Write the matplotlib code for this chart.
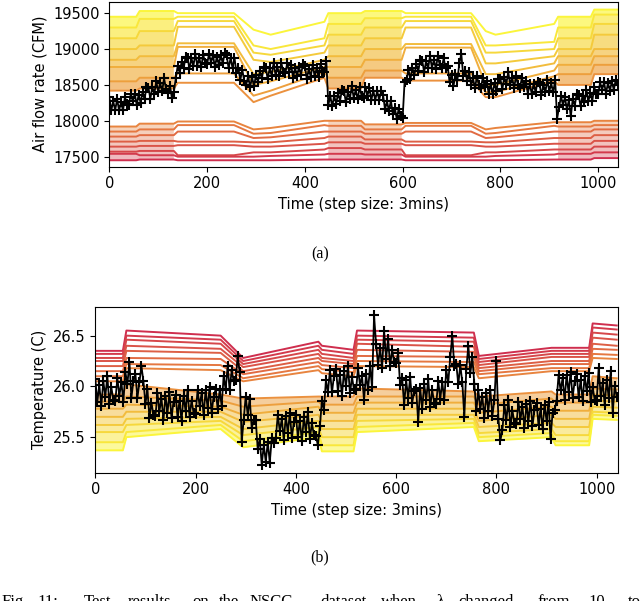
import numpy as np
import matplotlib
matplotlib.use("Agg")
import matplotlib.pyplot as plt
from matplotlib.colors import LinearSegmentedColormap

# ------------------------------------------------------------------ data
STEP = 4  # sampling step (time steps) of the measured series below

airflow_measured = [
    18330, 18145, 18270, 18150, 18300, 18145, 18260, 18145, 18330, 18230,
    18220, 18380, 18270, 18380, 18220, 18365, 18250, 18400, 18300, 18465,
    18460, 18310, 18470, 18375, 18550, 18405, 18530, 18410, 18590, 18445,
    18390, 18490, 18320, 18400, 18600, 18765, 18670, 18825, 18730, 18890,
    18880, 18720, 18870, 18765, 18930, 18770, 18880, 18750, 18920, 18810,
    18790, 18935, 18810, 18915, 18750, 18895, 18780, 18915, 18800, 18940,
    18910, 18735, 18870, 18740, 18880, 18670, 18730, 18570, 18710, 18560,
    18500, 18620, 18470, 18610, 18480, 18640, 18540, 18690, 18590, 18750,
    18740, 18580, 18730, 18630, 18800, 18640, 18750, 18625, 18800, 18685,
    18660, 18805, 18680, 18775, 18600, 18740, 18620, 18755, 18640, 18785,
    18760, 18585, 18720, 18615, 18780, 18620, 18730, 18610, 18790, 18690,
    18680, 18830, 18220, 18345, 18200, 18350, 18240, 18385, 18280, 18435,
    18420, 18255, 18400, 18305, 18480, 18320, 18430, 18300, 18470, 18350,
    18320, 18470, 18350, 18455, 18290, 18420, 18290, 18415, 18290, 18410,
    18360, 18160, 18270, 18140, 18280, 18095, 18180, 18025, 18170, 18060,
    18040, 18540, 18570, 18710, 18580, 18740, 18640, 18790, 18690, 18850,
    18840, 18680, 18830, 18730, 18900, 18740, 18850, 18725, 18900, 18775,
    18740, 18870, 18730, 18770, 18540, 18640, 18480, 18650, 18570, 18800,
    18930, 18625, 18700, 18555, 18680, 18500, 18590, 18455, 18620, 18495,
    18460, 18600, 18470, 18560, 18380, 18510, 18380, 18525, 18420, 18585,
    18580, 18440, 18610, 18510, 18680, 18505, 18600, 18460, 18620, 18495,
    18460, 18600, 18470, 18560, 18380, 18510, 18380, 18515, 18400, 18545,
    18520, 18355, 18500, 18400, 18570, 18410, 18520, 18395, 18570, 18030,
    18190, 18340, 18220, 18325, 18160, 18285, 18060, 18305, 18210, 18370,
    18360, 18200, 18350, 18255, 18430, 18275, 18390, 18280, 18470, 18375,
    18370, 18535, 18430, 18540, 18380, 18530, 18420, 18550, 18430, 18575,
    18500]

temperature_measured = [
    26.07, 25.85, 26.01, 25.81, 26.05, 25.90, 26.10, 25.83, 25.99, 25.87,
    25.86, 26.08, 25.91, 26.04, 25.85, 26.14, 26.02, 26.24, 25.89, 26.05,
    26.12, 25.89, 26.04, 26.20, 26.05, 25.83, 25.97, 25.69, 25.84, 25.72,
    25.71, 25.93, 25.76, 25.88, 25.67, 25.91, 25.74, 25.94, 25.69, 25.85,
    25.92, 25.70, 25.86, 25.66, 25.91, 25.76, 25.96, 25.70, 25.86, 25.74,
    25.73, 25.96, 25.81, 25.93, 25.72, 25.96, 25.79, 25.99, 25.74, 25.90,
    25.97, 25.78, 25.96, 25.81, 26.10, 25.97, 26.20, 25.96, 26.16, 26.05,
    26.06, 26.30, 26.14, 25.45, 25.67, 25.90, 25.72, 25.88, 25.59, 25.67,
    25.67, 25.38, 25.48, 25.23, 25.42, 25.26, 25.45, 25.25, 25.49, 25.44,
    25.49, 25.72, 25.56, 25.68, 25.47, 25.71, 25.54, 25.74, 25.49, 25.65,
    25.72, 25.50, 25.66, 25.46, 25.70, 25.55, 25.75, 25.48, 25.64, 25.52,
    25.51, 25.42, 25.61, 25.86, 25.77, 26.06, 25.94, 26.16, 25.94, 26.10,
    26.17, 25.95, 26.11, 25.91, 26.15, 26.00, 26.20, 25.93, 26.09, 25.97,
    25.96, 26.18, 26.01, 26.10, 25.87, 26.12, 25.96, 26.20, 25.99, 26.70,
    26.42, 26.21, 26.38, 26.18, 26.55, 26.27, 26.47, 26.20, 26.36, 26.24,
    26.23, 26.33, 26.01, 26.08, 25.82, 26.06, 25.89, 26.09, 25.84, 25.95,
    25.97, 25.65, 25.98, 25.78, 26.02, 25.87, 26.07, 25.80, 25.96, 25.84,
    25.83, 26.05, 25.88, 26.04, 25.87, 26.16, 26.04, 26.29, 26.50, 26.20,
    26.22, 26.02, 26.21, 26.04, 25.70, 26.17, 26.40, 26.13, 26.29, 26.02,
    25.76, 25.96, 25.78, 25.90, 25.69, 25.93, 25.76, 25.96, 25.71, 25.87,
    26.25, 25.68, 25.47, 25.57, 25.82, 25.67, 25.87, 25.60, 25.76, 25.64,
    25.63, 25.85, 25.68, 25.80, 25.59, 25.83, 25.66, 25.86, 25.61, 25.77,
    25.84, 25.62, 25.78, 25.58, 25.82, 25.66, 25.85, 25.48, 25.74, 25.77,
    25.86, 26.11, 25.96, 26.08, 25.87, 26.11, 25.94, 26.14, 25.89, 26.05,
    26.12, 25.90, 26.06, 25.86, 26.10, 25.95, 26.13, 25.85, 25.99, 25.87,
    25.86, 26.18, 25.91, 26.03, 25.82, 26.06, 25.89, 26.15, 25.74, 26.00,
    25.90]

# air-flow curves for the different lambda values (index 0 = red, bottom)
T_AIR = [0, 55, 62, 132, 140, 255, 295, 330, 440, 448, 515,
         523, 598, 606, 740, 770, 790, 910, 918, 985, 992, 1040]
air_dense = [1, 1, 1, 1, 0, 0, 0, 0, 0, 1, 1,
             1, 1, 0, 0, 0, 0, 0, 1, 1, 1, 1]
air_l00 = [17450, 17450, 17460, 17460, 17450, 17450, 17450, 17450, 17460, 17460, 17460, 17460, 17460, 17450, 17450, 17450, 17450, 17460, 17460, 17460, 17480, 17480]
air_l01 = [17540, 17540, 17520, 17520, 17500, 17500, 17500, 17510, 17530, 17540, 17540, 17530, 17530, 17500, 17500, 17500, 17510, 17530, 17540, 17540, 17560, 17560]
air_l02 = [17570, 17570, 17580, 17580, 17520, 17520, 17560, 17560, 17600, 17620, 17620, 17600, 17600, 17520, 17520, 17560, 17560, 17600, 17600, 17600, 17640, 17640]
air_l03 = [17640, 17640, 17650, 17650, 17660, 17660, 17640, 17640, 17680, 17700, 17700, 17680, 17680, 17660, 17660, 17640, 17640, 17680, 17680, 17680, 17720, 17720]
air_l04 = [17710, 17710, 17720, 17720, 17710, 17710, 17700, 17700, 17760, 17780, 17780, 17740, 17740, 17710, 17710, 17700, 17700, 17760, 17760, 17760, 17800, 17800]
air_l05 = [17780, 17780, 17800, 17800, 17850, 17850, 17760, 17770, 17850, 17850, 17850, 17820, 17820, 17850, 17850, 17760, 17770, 17850, 17850, 17850, 17880, 17880]
air_l06 = [17850, 17850, 17880, 17880, 17940, 17940, 17820, 17830, 17940, 17930, 17930, 17880, 17880, 17930, 17930, 17820, 17830, 17930, 17920, 17920, 17940, 17940]
air_l07 = [17920, 17920, 17960, 17960, 17990, 17990, 17880, 17900, 18000, 18000, 18000, 17950, 17950, 17970, 17970, 17880, 17900, 17980, 17980, 17980, 18000, 18000]
air_l08 = [18420, 18420, 18450, 18450, 18530, 18530, 18260, 18350, 18600, 18450, 18450, 18600, 18600, 18560, 18560, 18330, 18330, 18560, 18500, 18500, 18650, 18650]
air_l09 = [18550, 18550, 18600, 18600, 18660, 18660, 18350, 18420, 18680, 18600, 18600, 18700, 18700, 18660, 18660, 18400, 18400, 18620, 18650, 18650, 18780, 18780]
air_l10 = [18750, 18750, 18750, 18750, 19030, 19030, 18500, 18550, 18750, 18750, 18750, 18850, 18850, 19020, 19020, 18500, 18500, 18700, 18780, 18780, 18900, 18900]
air_l11 = [18850, 18850, 18900, 18900, 19080, 19080, 18650, 18680, 18850, 18900, 18900, 19000, 19000, 19070, 19070, 18650, 18650, 18800, 18900, 18900, 19000, 19000]
air_l12 = [19000, 19000, 19050, 19050, 19310, 19310, 18850, 18820, 18950, 19050, 19050, 19150, 19150, 19300, 19300, 18800, 18800, 18900, 19000, 19000, 19200, 19200]
air_l13 = [19150, 19150, 19250, 19250, 19390, 19390, 18950, 18920, 19050, 19200, 19200, 19300, 19300, 19390, 19390, 18950, 18950, 19000, 19150, 19150, 19350, 19350]
air_l14 = [19300, 19300, 19420, 19420, 19450, 19450, 19050, 19000, 19150, 19350, 19350, 19430, 19430, 19450, 19450, 19050, 19050, 19100, 19300, 19300, 19480, 19480]
air_l15 = [19450, 19450, 19530, 19530, 19500, 19500, 19270, 19200, 19380, 19500, 19500, 19530, 19530, 19500, 19500, 19250, 19200, 19350, 19450, 19450, 19550, 19550]
air_lines = [air_l00, air_l01, air_l02, air_l03, air_l04, air_l05, air_l06, air_l07,
             air_l08, air_l09, air_l10, air_l11, air_l12, air_l13, air_l14, air_l15]

# temperature curves (index 0 = red, top)
T_TMP = [0, 55, 62, 250, 295, 445, 452, 515, 522, 755, 765, 910, 918, 985, 992, 1040]
tmp_l00 = [26.35, 26.35, 26.55, 26.50, 26.28, 26.44, 26.40, 26.36, 26.55, 26.53, 26.30, 26.38, 26.38, 26.38, 26.62, 26.60]
tmp_l01 = [26.32, 26.32, 26.50, 26.46, 26.25, 26.40, 26.36, 26.32, 26.50, 26.48, 26.27, 26.35, 26.35, 26.35, 26.58, 26.56]
tmp_l02 = [26.28, 26.28, 26.46, 26.42, 26.22, 26.36, 26.32, 26.28, 26.46, 26.44, 26.24, 26.32, 26.32, 26.32, 26.53, 26.51]
tmp_l03 = [26.25, 26.25, 26.40, 26.37, 26.19, 26.32, 26.28, 26.25, 26.42, 26.39, 26.21, 26.29, 26.29, 26.29, 26.48, 26.46]
tmp_l04 = [26.20, 26.20, 26.35, 26.33, 26.15, 26.28, 26.25, 26.22, 26.36, 26.34, 26.18, 26.25, 26.25, 26.25, 26.42, 26.40]
tmp_l05 = [26.15, 26.15, 26.28, 26.27, 26.12, 26.24, 26.21, 26.18, 26.30, 26.29, 26.15, 26.22, 26.22, 26.22, 26.37, 26.36]
tmp_l06 = [26.10, 26.10, 26.22, 26.21, 26.08, 26.20, 26.17, 26.14, 26.25, 26.24, 26.12, 26.18, 26.18, 26.18, 26.32, 26.31]
tmp_l07 = [26.05, 26.05, 26.18, 26.16, 26.05, 26.16, 26.13, 26.10, 26.20, 26.19, 26.08, 26.15, 26.15, 26.15, 26.28, 26.27]
tmp_l08 = [25.92, 25.92, 26.02, 25.92, 25.88, 25.90, 25.90, 25.90, 25.98, 25.95, 25.90, 25.95, 25.92, 25.92, 26.10, 26.08]
tmp_l09 = [25.85, 25.85, 25.90, 25.86, 25.80, 25.85, 25.82, 25.82, 25.90, 25.90, 25.82, 25.88, 25.84, 25.84, 25.98, 25.97]
tmp_l10 = [25.78, 25.78, 25.82, 25.80, 25.72, 25.80, 25.74, 25.74, 25.84, 25.84, 25.74, 25.80, 25.76, 25.76, 25.92, 25.91]
tmp_l11 = [25.70, 25.70, 25.75, 25.75, 25.65, 25.72, 25.66, 25.66, 25.78, 25.78, 25.66, 25.72, 25.68, 25.68, 25.86, 25.85]
tmp_l12 = [25.62, 25.62, 25.68, 25.70, 25.58, 25.66, 25.58, 25.58, 25.72, 25.72, 25.60, 25.64, 25.60, 25.60, 25.80, 25.79]
tmp_l13 = [25.55, 25.55, 25.62, 25.66, 25.52, 25.60, 25.50, 25.50, 25.66, 25.68, 25.54, 25.58, 25.52, 25.52, 25.75, 25.74]
tmp_l14 = [25.45, 25.45, 25.55, 25.62, 25.46, 25.55, 25.42, 25.42, 25.60, 25.64, 25.50, 25.54, 25.46, 25.46, 25.72, 25.71]
tmp_l15 = [25.37, 25.37, 25.50, 25.58, 25.40, 25.50, 25.36, 25.36, 25.55, 25.60, 25.46, 25.50, 25.42, 25.42, 25.68, 25.67]
tmp_lines = [tmp_l00, tmp_l01, tmp_l02, tmp_l03, tmp_l04, tmp_l05, tmp_l06, tmp_l07,
             tmp_l08, tmp_l09, tmp_l10, tmp_l11, tmp_l12, tmp_l13, tmp_l14, tmp_l15]

x_ticks = [0, 200, 400, 600, 800, 1000]
air_yticks = [17500, 18000, 18500, 19000, 19500]
tmp_yticks = [25.5, 26.0, 26.5]

x_label = "Time (step size: 3mins)"
air_ylabel = "Air flow rate (CFM)"
tmp_ylabel = "Temperature (C)"
caption_words = ["Fig.", "11:", "Test", "results", "on", "the", "NSCC",
                 "dataset", "when", "\u03bb", "changed", "from", "10", "to"]
caption_x_px = [2, 37, 84, 128, 192, 219, 250, 320, 381, 437, 458, 537, 588, 628]

# ------------------------------------------------------------------ plot
FS = 10.5
cmap = LinearSegmentedColormap.from_list("ry", ["#cf2e4e", "#ea8a3e", "#fbf53b"])

fig = plt.figure(figsize=(6.4, 6.01), dpi=100)
ax1 = fig.add_axes([0.1708, 0.7226, 0.7944, 0.2746])
ax2 = fig.add_axes([0.1489, 0.2135, 0.8163, 0.2762])

n = len(air_lines)
mask = np.array(air_dense, dtype=bool)
for i, vals in enumerate(air_lines):
    ax1.plot(T_AIR, vals, color=cmap(i / (n - 1)), lw=1.4, zorder=2)
for i in range(n - 1):
    if i == 7:
        continue
    a = 0.65 if i >= 8 else 0.35
    ax1.fill_between(T_AIR, air_lines[i], air_lines[i + 1], where=mask,
                     color=cmap((i + 1) / (n - 1)), alpha=a, lw=0, zorder=1)
t_air = np.arange(len(airflow_measured)) * STEP
ax1.plot(t_air, airflow_measured, color="black", lw=1.3, marker="+",
         ms=7, mew=1.5, zorder=3)

m = len(tmp_lines)
for i, vals in enumerate(tmp_lines):
    ax2.plot(T_TMP, vals, color=cmap(i / (m - 1)), lw=1.4, zorder=2)
for i in range(8, m - 1):
    ax2.fill_between(T_TMP, tmp_lines[i], tmp_lines[i + 1],
                     color=cmap((i + 1) / (m - 1)), alpha=0.5, lw=0, zorder=1)
t_tmp = np.arange(len(temperature_measured)) * STEP
ax2.plot(t_tmp, temperature_measured, color="black", lw=1.3, marker="+",
         ms=7, mew=1.5, zorder=3)

ax1.set_xlim(0, 1040)
ax1.set_ylim(17360, 19660)
ax1.set_xticks(x_ticks)
ax1.set_yticks(air_yticks)
ax1.set_xlabel(x_label, fontsize=FS)
ax1.set_ylabel(air_ylabel, fontsize=FS)

ax2.set_xlim(0, 1042)
ax2.set_ylim(25.15, 26.785)
ax2.set_xticks(x_ticks)
ax2.set_yticks(tmp_yticks)
ax2.set_yticklabels([f"{v:.1f}" for v in tmp_yticks])
ax2.set_xlabel(x_label, fontsize=FS)
ax2.set_ylabel(tmp_ylabel, fontsize=FS)

for ax in (ax1, ax2):
    ax.tick_params(labelsize=FS)

serif = ["Liberation Serif", "DejaVu Serif"]
fig.text(0.5, 1 - 254 / 601, "(a)", ha="center", va="center", family=serif, fontsize=11.5)
fig.text(0.5, 1 - 557 / 601, "(b)", ha="center", va="center", family=serif, fontsize=11.5)
for word, xp in zip(caption_words, caption_x_px):
    fig.text(xp / 640, 1 - 594 / 601, word, ha="left", va="top",
             family=serif, fontsize=12)

fig.savefig("out.png", dpi=100)
